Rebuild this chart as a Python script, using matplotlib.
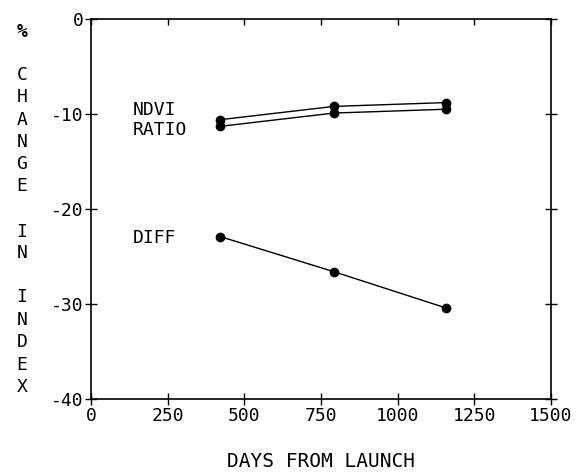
import matplotlib
matplotlib.use("Agg")
import matplotlib.pyplot as plt

# values
days = [421, 792, 1156]
ndvi = [-10.6, -9.2, -8.8]
ratio = [-11.3, -9.9, -9.5]
diff = [-22.9, -26.6, -30.4]

x_ticks = [0, 250, 500, 750, 1000, 1250, 1500]
y_ticks = [0, -10, -20, -30, -40]

plt.rcParams["font.family"] = "DejaVu Sans Mono"
plt.rcParams["axes.unicode_minus"] = False

W, H = 588, 473
fig = plt.figure(figsize=(W / 100, H / 100), dpi=100)
ax = fig.add_axes([91 / W, 1 - 399 / H, (551 - 91) / W, (399 - 19) / H])

for series in (ndvi, ratio, diff):
    ax.plot(days, series, color="black", linewidth=1.0, marker="o", markersize=6)

ax.set_xlim(0, 1500)
ax.set_ylim(-40, 0)
ax.set_xticks(x_ticks)
ax.set_yticks(y_ticks)
ax.tick_params(direction="inout", length=9, width=1, labelsize=13, pad=1,
               right=True)
# top ticks: short, inside only
sec = ax.secondary_xaxis("top")
sec.set_xticks(x_ticks)
sec.tick_params(direction="in", length=4, width=1, labeltop=False)
sec.spines["top"].set_visible(False)
for s in ax.spines.values():
    s.set_linewidth(1.2)

ax.text(135, -9.6, "NDVI", fontsize=13, va="center")
ax.text(135, -11.7, "RATIO", fontsize=13, va="center")
ax.text(135, -23.1, "DIFF", fontsize=13, va="center")

ax.set_xlabel("DAYS FROM LAUNCH", fontsize=14, labelpad=20)

# stacked vertical y-label, one letter at a time (figure pixels)
ylab_chars = list("%CHANGEININDEX")
ylab_y = [32, 75, 97, 120, 142, 164, 186, 232, 253, 297, 320, 342, 365, 387]
for ch, y in zip(ylab_chars, ylab_y):
    fig.text(22 / W, 1 - y / H, ch, fontsize=13, ha="center", va="center",
             fontweight="bold" if ch == "%" else "normal")

fig.savefig("out.png", dpi=100)
